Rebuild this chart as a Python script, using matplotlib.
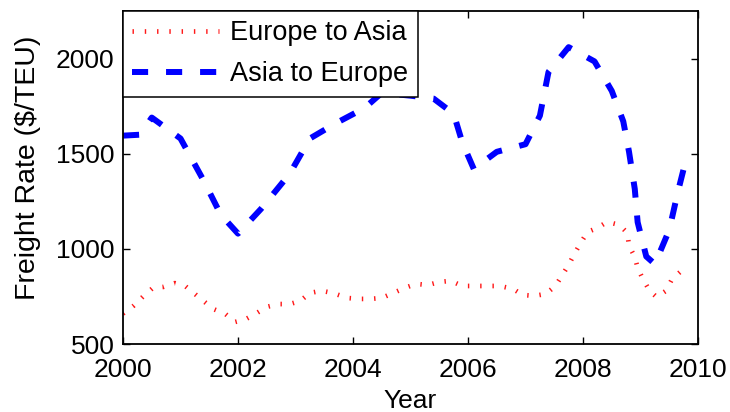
import matplotlib
matplotlib.use('Agg')
import matplotlib.pyplot as plt

plt.rcParams['font.family'] = ['Liberation Sans', 'DejaVu Sans']

# Asia to Europe freight rate ($/TEU)
asia_eu_year = [2000.0, 2000.3, 2000.5, 2001.0, 2001.4, 2001.7, 2002.0, 2002.4,
                2002.9, 2003.25, 2003.7, 2004.2, 2004.5, 2005.0, 2005.4, 2005.75,
                2005.9, 2006.1, 2006.5, 2007.0, 2007.25, 2007.4, 2007.75, 2008.2,
                2008.5, 2008.7, 2008.8, 2008.9, 2008.95, 2009.1, 2009.25, 2009.5,
                2009.65, 2009.75]
asia_eu_rate = [1595, 1600, 1690, 1580, 1360, 1180, 1080, 1210,
                1395, 1580, 1660, 1740, 1820, 1805, 1790, 1710,
                1560, 1420, 1510, 1550, 1700, 1930, 2060, 1985,
                1830, 1670, 1510, 1315, 1140, 960, 920, 1100,
                1300, 1420]

# Europe to Asia freight rate ($/TEU)
eu_asia_year = [2000.0, 2000.18, 2000.35, 2000.52, 2000.7, 2000.9, 2001.08, 2001.25,
                2001.4, 2001.57, 2001.78, 2001.95, 2002.13, 2002.3, 2002.5, 2002.7,
                2002.9, 2003.08, 2003.25, 2003.45, 2003.65, 2003.9, 2004.1, 2004.3,
                2004.5, 2004.7, 2004.9, 2005.1, 2005.3, 2005.5, 2005.7, 2005.9,
                2006.1, 2006.35, 2006.55, 2006.78, 2006.95, 2007.15, 2007.35, 2007.52,
                2007.63, 2007.75, 2007.85, 2007.97, 2008.08, 2008.25, 2008.42, 2008.63,
                2008.77, 2008.8, 2008.9, 2008.95, 2009.04, 2009.16, 2009.28, 2009.44,
                2009.55, 2009.75]
eu_asia_rate = [660, 700, 750, 795, 800, 820, 805, 763,
                726, 684, 658, 616, 630, 658, 695, 710,
                710, 726, 768, 780, 768, 742, 737, 737,
                742, 768, 795, 816, 810, 826, 832, 805,
                805, 805, 805, 790, 758, 753, 763, 805,
                858, 916, 974, 1037, 1089, 1110, 1142, 1126,
                1084, 1016, 958, 900, 842, 779, 747, 779,
                842, 895]

FS = 19

fig = plt.figure(figsize=(7.3, 4.12), dpi=100)
ax = fig.add_axes([0.1685, 0.165, 0.7877, 0.8083])

# short thick dashes with butt caps give the tick-like dotted look
ax.plot(eu_asia_year, eu_asia_rate, color='red', lw=3.4, dashes=(0.3, 2.3),
        dash_capstyle='butt', alpha=0.9, label='Europe to Asia')
ax.plot(asia_eu_year, asia_eu_rate, color='blue', lw=4.3, dashes=(2.7, 3.0),
        dash_capstyle='butt', label='Asia to Europe')

ax.set_xlim(2000, 2010)
ax.set_ylim(500, 2250)
ax.set_xticks(range(2000, 2011, 2))
ax.set_yticks([500, 1000, 1500, 2000])
ax.tick_params(direction='in', length=5, width=1.0, top=True, right=True,
               labelsize=FS)
ax.tick_params(axis='x', pad=10)
ax.tick_params(axis='y', pad=6)
for s in ax.spines.values():
    s.set_linewidth(1.3)

ax.set_xlabel('Year', fontsize=FS, labelpad=5)
ax.set_ylabel('Freight Rate ($/TEU)', fontsize=20.5)
ax.yaxis.set_label_coords(-0.143, 0.528)

leg = ax.legend(loc='upper left', borderaxespad=0, fancybox=False,
                edgecolor='black', fontsize=19.5, handlelength=3.2,
                borderpad=0.35, labelspacing=0.55, handletextpad=0.4,
                framealpha=1)
leg.get_frame().set_linewidth(1.1)

fig.savefig('out.png', dpi=100)
